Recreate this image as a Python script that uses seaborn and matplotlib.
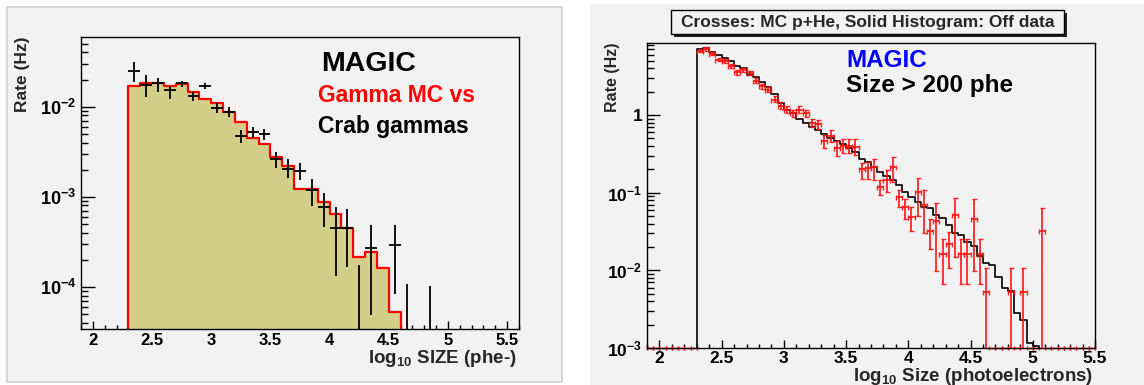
import numpy as np
import matplotlib
matplotlib.use("Agg")
import matplotlib.pyplot as plt
import matplotlib.ticker as mticker
from matplotlib.patches import Rectangle
import seaborn as sns

# ---- left panel: Gamma MC histogram (0.1 wide bins from 2.3) vs Crab gammas ----
gamma_mc_start = 2.3
gamma_mc_width = 0.1
gamma_mc = [0.0170, 0.0181, 0.0185, 0.0170, 0.0177, 0.0147, 0.0121, 0.0111, 0.0088, 0.0068,
            0.0045, 0.00385, 0.00278, 0.0022, 0.00122, 0.00122, 0.00088, 0.00064, 0.000446, 0.000216,
            0.000245, 0.000163, 5.25e-5]

crab_x = [2.35, 2.45, 2.55, 2.65, 2.75, 2.85, 2.95, 3.05, 3.15, 3.25, 3.35, 3.45,
          3.55, 3.65, 3.75, 3.85, 3.95, 4.05, 4.15, 4.25, 4.35, 4.55, 4.65, 4.85]
crab_y = [0.0249, 0.0174, 0.0182, 0.0153, 0.0182, 0.0132, 0.0170, 0.00975, 0.0088, 0.00472,
          0.00523, 0.00493, 0.00264, 0.00205, 0.00195, 0.00119, 0.000774, 0.000453, 0.000453, 0,
          0.000267, 0.00029, 0, 0]
crab_lo = [0.0190, 0.0129, 0.0147, 0.0122, 0.0164, 0.0117, 0.0156, 0.00858, 0.00774, 0.00392,
           0.00445, 0.00426, 0.00206, 0.0016, 0.00153, 0.00079, 0.000464, 0.000132, 0.000167, 0,
           4.84e-5, 8.4e-5, 0, 0]
crab_hi = [0.0311, 0.0225, 0.0206, 0.0170, 0.0195, 0.0147, 0.0182, 0.0109, 0.00983, 0.00551,
           0.00589, 0.00560, 0.00316, 0.0026, 0.00234, 0.00156, 0.00109, 0.000774, 0.000723, 0.000174,
           0.000484, 0.000484, 0.000107, 0.000103]

# ---- right panel: Off data histogram (0.05 wide bins from 2.3) vs MC p+He ----
off_start = 2.3
off_width = 0.05
off_data = [7.08, 7.24, 6.46, 5.89, 5.37, 5.01, 4.27, 3.98, 3.31, 3.09,
            2.63, 2.29, 1.86, 1.41, 1.15, 1.05, 0.891, 0.794, 0.708, 0.646,
            0.562, 0.501, 0.468, 0.417, 0.380, 0.331, 0.275, 0.251, 0.216, 0.186,
            0.162, 0.145, 0.126, 0.102, 0.0891, 0.0759, 0.0661, 0.0631, 0.0513, 0.0468,
            0.0380, 0.0302, 0.0288, 0.0234, 0.0204, 0.0151, 0.0123, 0.0117, 0.00832, 0.00589,
            0.00537, 0.00282, 0.00229, 0.00115, 0.00105]

mc_x = [2.325, 2.375, 2.425, 2.475, 2.525, 2.575, 2.625, 2.675, 2.725, 2.775,
        2.825, 2.875, 2.925, 2.975, 3.025, 3.075, 3.125, 3.175, 3.225, 3.275,
        3.325, 3.375, 3.425, 3.475, 3.525, 3.575, 3.625, 3.675, 3.725, 3.775,
        3.825, 3.875, 3.925, 3.975, 4.025, 4.075, 4.125, 4.175, 4.225, 4.275,
        4.325, 4.375, 4.425, 4.475, 4.525, 4.575, 4.625, 4.825, 4.925, 5.075]
mc_y = [6.76, 7.08, 6.17, 5.13, 4.90, 4.27, 3.55, 3.80, 3.47, 2.75,
        2.34, 2.11, 1.58, 1.32, 1.16, 1.05, 1.17, 1.05, 0.794, 0.759,
        0.457, 0.537, 0.372, 0.398, 0.398, 0.389, 0.202, 0.206, 0.212, 0.120,
        0.146, 0.212, 0.0889, 0.0649, 0.0482, 0.103, 0.0695, 0.0325, 0.0433, 0.0161,
        0.0217, 0.0512, 0.0161, 0.0161, 0.0463, 0.0161, 0.00527, 0.00527, 0.00527, 0.0321]
mc_lo = [6.46, 6.76, 5.89, 4.90, 4.62, 4.03, 3.31, 3.55, 3.24, 2.57,
         2.16, 1.95, 1.45, 1.20, 1.05, 0.94, 1.06, 0.93, 0.70, 0.66,
         0.375, 0.447, 0.295, 0.324, 0.324, 0.309, 0.150, 0.150, 0.146, 0.0933,
         0.101, 0.136, 0.0649, 0.0459, 0.0321, 0.0507, 0.0300, 0.0187, 0.00984, 0.00662,
         0.0106, 0.0147, 0.00662, 0.00662, 0.00984, 0.00662, 0, 0, 0, 0]
mc_hi = [7.08, 7.41, 6.46, 5.37, 5.19, 4.52, 3.80, 4.07, 3.72, 2.95,
         2.54, 2.29, 1.74, 1.45, 1.29, 1.16, 1.30, 1.17, 0.90, 0.87,
         0.556, 0.646, 0.468, 0.490, 0.490, 0.490, 0.244, 0.251, 0.269, 0.146,
         0.196, 0.285, 0.108, 0.0830, 0.0649, 0.153, 0.108, 0.0454, 0.0745, 0.0251,
         0.0316, 0.0863, 0.0251, 0.0251, 0.0822, 0.0251, 0.0106, 0.0106, 0.0106, 0.0630]

PANEL = "#f2f2f2"
OLIVE = "#d3cf8b"

sns.set_style("ticks")
plt.rcParams["font.family"] = ["Liberation Sans", "DejaVu Sans"]
plt.rcParams["font.weight"] = "bold"
plt.rcParams["mathtext.fontset"] = "custom"
plt.rcParams["mathtext.rm"] = "Liberation Sans:bold"
plt.rcParams["mathtext.bf"] = "Liberation Sans:bold"
plt.rcParams["mathtext.it"] = "Liberation Sans:bold"
plt.rcParams["axes.linewidth"] = 1.0

W, H = 1144, 385
fig = plt.figure(figsize=(W / 100, H / 100), dpi=100)
fig.patch.set_facecolor("white")


def fx(px):
    return px / W


def fy(py):
    return 1 - py / H


# panel backgrounds (behind the axes)
fig.patches.append(Rectangle((fx(7), fy(382)), fx(555), 375 / H, transform=fig.transFigure,
                             fc=PANEL, ec="#d0d0d0", lw=1.2, zorder=-5))
fig.patches.append(Rectangle((fx(590), 0), fx(554), 381 / H, transform=fig.transFigure,
                             fc=PANEL, ec="none", zorder=-5))


def log_label(v, pos):
    e = int(round(np.log10(v)))
    if e == 0:
        return "1"
    return r"$\mathbf{10^{%d}}$" % e


def style_axes(ax, ylen, xsize, ysize, xpad=3):
    ax.set_facecolor(PANEL)
    for s in ax.spines.values():
        s.set_color("black")
        s.set_linewidth(1.0)
    ax.xaxis.set_major_locator(mticker.MultipleLocator(0.5))
    ax.xaxis.set_minor_locator(mticker.MultipleLocator(0.1))
    ax.xaxis.set_major_formatter(mticker.FuncFormatter(lambda v, p: f"{v:g}"))
    ax.yaxis.set_major_locator(mticker.LogLocator(base=10))
    ax.yaxis.set_minor_locator(mticker.LogLocator(base=10, subs=np.arange(2, 10)))
    ax.yaxis.set_major_formatter(mticker.FuncFormatter(log_label))
    ax.yaxis.set_minor_formatter(mticker.NullFormatter())
    ax.tick_params(axis="both", which="both", direction="in", top=False, right=False,
                   width=1.0, colors="black")
    ax.tick_params(axis="x", which="major", length=6, pad=xpad, labelsize=xsize)
    ax.tick_params(axis="x", which="minor", length=3)
    ax.tick_params(axis="y", which="major", length=ylen, pad=3.5, labelsize=ysize)
    ax.tick_params(axis="y", which="minor", length=ylen / 2)
    ax.set_xlabel("")
    ax.set_ylabel("")


# ---------------- left panel ----------------
ax1 = fig.add_axes([fx(81), fy(329), fx(438), 292 / H])
edges1 = gamma_mc_start + gamma_mc_width * np.arange(len(gamma_mc) + 1)
step_x1 = np.concatenate([[edges1[0]], edges1])
step_y1 = [0.0] + list(gamma_mc) + [0.0]
ax1.fill_between(edges1, list(gamma_mc) + [0.0], step="post", color=OLIVE, lw=0, zorder=1)
sns.lineplot(x=step_x1, y=step_y1, drawstyle="steps-post", color="red", lw=1.6,
             estimator=None, sort=False, ax=ax1, zorder=2)
ax1.set_yscale("log", nonpositive="clip")
cy = np.array(crab_y)
ax1.errorbar(crab_x, cy, yerr=[cy - np.array(crab_lo), np.array(crab_hi) - cy], xerr=0.05,
             fmt="none", ecolor="black", elinewidth=1.3, capsize=0, zorder=3)
ax1.set_xlim(1.9, 5.6)
ax1.set_ylim(3.4e-5, 0.0594)
style_axes(ax1, 10, 12, 13)

fig.text(fx(23), fy(37), "Rate (Hz)", rotation=90, ha="center", va="top", fontsize=12.5)
fig.text(fx(517), fy(363), r"log$_{10}$ SIZE (phe-)", ha="right", va="baseline", fontsize=13.5)
fig.text(fx(321), fy(71), "MAGIC", ha="left", va="baseline", fontsize=20.5, color="black")
fig.text(fx(318), fy(102), "Gamma MC vs", ha="left", va="baseline", fontsize=16.5, color="#ff0000")
fig.text(fx(318), fy(133), "Crab gammas", ha="left", va="baseline", fontsize=16.5, color="black")

# ---------------- right panel ----------------
ax2 = fig.add_axes([fx(647), fy(348), fx(448), 305 / H])
edges2 = off_start + off_width * np.arange(len(off_data) + 1)
step_x2 = np.concatenate([[edges2[0]], edges2])
step_y2 = [0.0] + list(off_data) + [0.0]
sns.lineplot(x=step_x2, y=step_y2, drawstyle="steps-post", color="black", lw=1.2,
             estimator=None, sort=False, ax=ax2, zorder=2)
ax2.set_yscale("log", nonpositive="clip")
my = np.array(mc_y)
ax2.errorbar(mc_x, my, yerr=[my - np.array(mc_lo), np.array(mc_hi) - my], xerr=0.025,
             fmt="none", ecolor="#ff1010", elinewidth=1.3, capsize=1.8, capthick=1.0,
             alpha=0.9, zorder=3)
ax2.set_xlim(1.9, 5.5)
ax2.set_ylim(1e-3, 8.45)

# empty MC bins are drawn by ROOT on the bottom edge
all_centres = np.round(np.arange(1.925, 5.5, 0.05), 3)
zero_x = [c for c in all_centres if not np.any(np.isclose(c, mc_x))]
ax2.errorbar(zero_x, [ax2.get_ylim()[0]] * len(zero_x), xerr=0.025, fmt="none",
             ecolor="#ff1010", elinewidth=1.0, capsize=1.5, clip_on=False, zorder=1)
style_axes(ax2, 9.5, 12.5, 12.5, xpad=2)

fig.text(fx(612), fy(43), "Rate (Hz)", rotation=90, ha="center", va="top", fontsize=11.5)
fig.text(fx(1093), fy(381), r"log$_{10}$ Size (photoelectrons)", ha="right", va="baseline",
         fontsize=13.5)
fig.text(fx(846), fy(67), "MAGIC", ha="left", va="baseline", fontsize=17.5, color="#0000ff")
fig.text(fx(846), fy(92), "Size > 200 phe", ha="left", va="baseline", fontsize=17.5, color="black")

# title box with shadow
fig.patches.append(Rectangle((fx(674), fy(37)), fx(393), 24 / H, transform=fig.transFigure,
                             fc="#222222", ec="none", zorder=3))
fig.patches.append(Rectangle((fx(671), fy(34)), fx(393), 24 / H, transform=fig.transFigure,
                             fc=PANEL, ec="black", lw=1.0, zorder=4))
fig.text(fx(868), fy(22), "Crosses: MC p+He, Solid Histogram: Off data", ha="center",
         va="center", fontsize=12.5, zorder=5)

fig.savefig("out.png", dpi=100)
